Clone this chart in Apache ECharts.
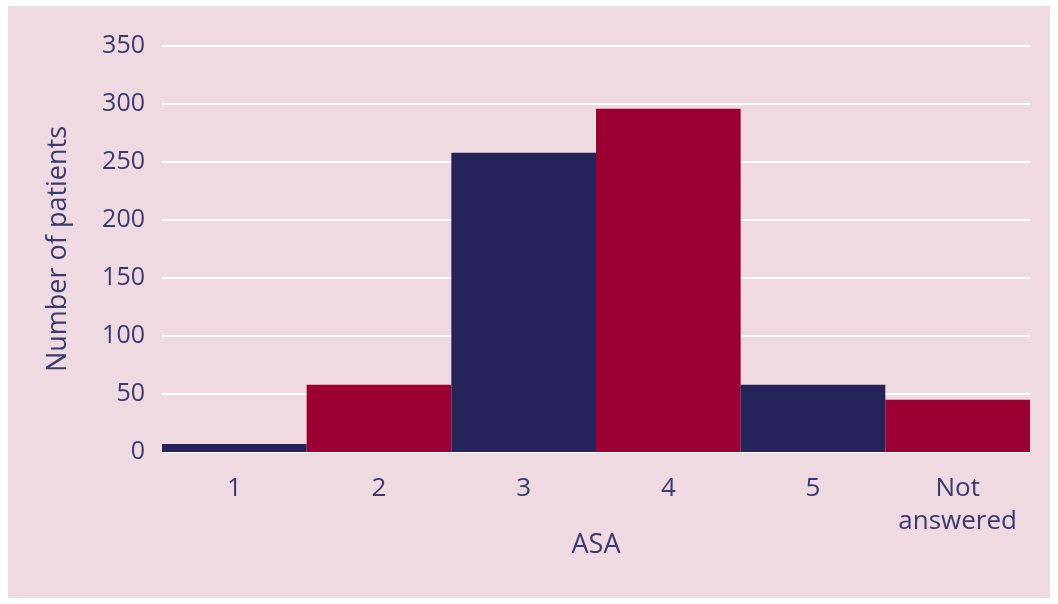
<!DOCTYPE html>
<html>
<head>
<meta charset="utf-8">
<script src="https://cdn.jsdelivr.net/npm/echarts@6/dist/echarts.min.js"></script>
<style>
  html, body { margin: 0; padding: 0; background: #ffffff; }
  #chart { width: 1058px; height: 604px; }
</style>
</head>
<body>
<div id="chart"></div>
<script>
// ASA grade categories and patient counts
const categories = ['1', '2', '3', '4', '5', 'Not\nanswered'];
const patients = [7, 58, 258, 296, 58, 45];
const yTicks = [0, 50, 100, 150, 200, 250, 300, 350];

const navy = '#26235a';
const crimson = '#9b0032';
const textColor = '#3b3970';

const chart = echarts.init(document.getElementById('chart'), null, { renderer: 'canvas' });

chart.setOption({
  backgroundColor: '#ffffff',
  animation: false,
  textStyle: { fontFamily: 'Open Sans' },
  graphic: [{
    type: 'rect',
    z: -10,
    silent: true,
    shape: { x: 8, y: 6, width: 1042, height: 592 },
    style: { fill: '#f0dae1' }
  }],
  grid: { left: 162, right: 28, top: 46, bottom: 152, containLabel: false },
  xAxis: {
    type: 'category',
    data: categories,
    axisLine: { show: false },
    axisTick: { show: false },
    axisLabel: { interval: 0, color: textColor, fontSize: 26, margin: 20, lineHeight: 33, fontFamily: 'Open Sans' },
    name: 'ASA',
    nameLocation: 'middle',
    nameGap: 80,
    nameMoveOverlap: false,
    nameTextStyle: { color: textColor, fontSize: 27, fontFamily: 'Open Sans' }
  },
  yAxis: {
    type: 'value',
    min: yTicks[0],
    max: yTicks[yTicks.length - 1],
    interval: yTicks[1] - yTicks[0],
    axisLine: { show: false },
    axisTick: { show: false },
    axisLabel: { color: textColor, fontSize: 25, margin: 17, fontFamily: 'Open Sans' },
    splitLine: { lineStyle: { color: '#ffffff', width: 2 } },
    name: 'Number of patients',
    nameLocation: 'middle',
    nameRotate: 90,
    nameGap: 90,
    nameMoveOverlap: false,
    nameTextStyle: { color: textColor, fontSize: 27, fontFamily: 'Open Sans' }
  },
  series: [{
    type: 'bar',
    data: patients.map((v, i) => ({ value: v, itemStyle: { color: i % 2 === 0 ? navy : crimson } })),
    barCategoryGap: '0%',
    barWidth: '100%'
  }]
});
</script>
</body>
</html>
